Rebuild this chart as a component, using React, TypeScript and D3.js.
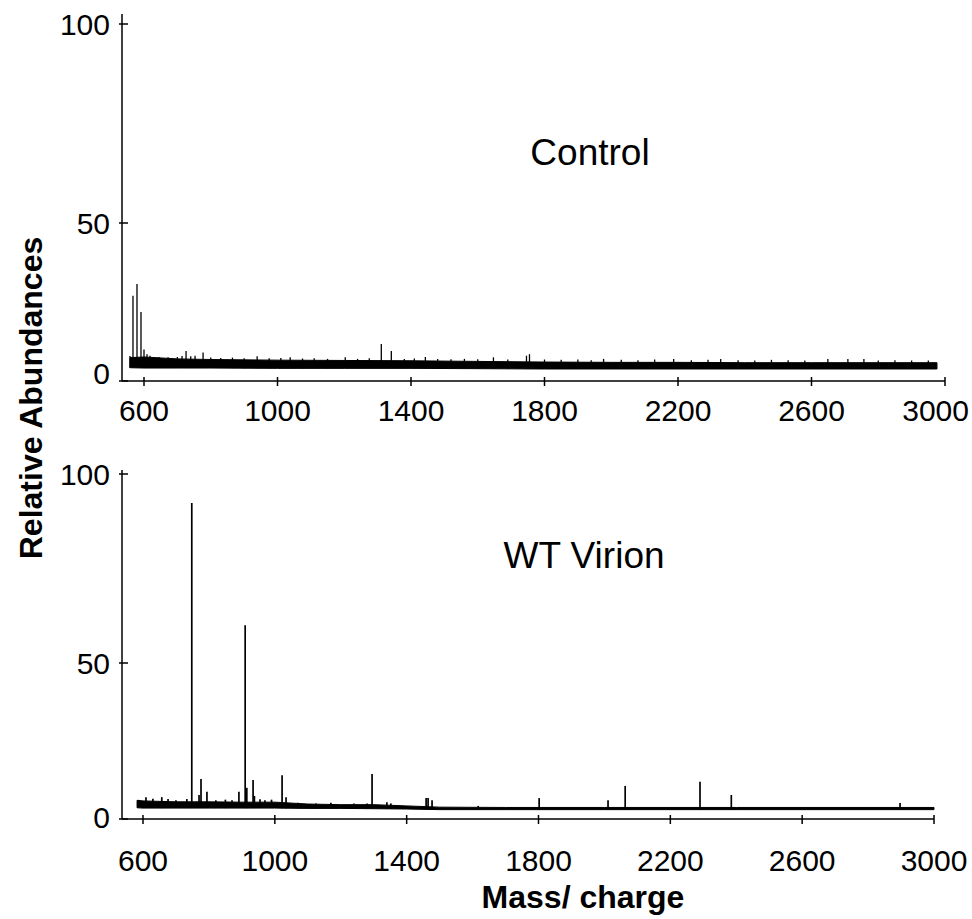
import React, { useEffect, useRef } from 'react';
import * as d3 from 'd3';

const X_TICKS = [600, 1000, 1400, 1800, 2200, 2600, 3000];
const Y_TICKS = [0, 50, 100];

// Control spectrum: noise envelope (m/z, low, high) and single peaks
const controlNoiseMz = [558, 600, 700, 800, 1000, 1200, 1400, 1600, 1800, 2000, 2200, 2400, 2600, 2800, 2976];
const controlNoiseLow = [4.2, 4.1, 4.1, 4.1, 4.0, 4.0, 4.0, 3.9, 3.8, 3.8, 3.8, 3.8, 3.8, 3.8, 3.8];
const controlNoiseHigh = [7.4, 7.6, 7.0, 6.8, 6.6, 6.5, 6.4, 6.2, 6.0, 5.9, 5.9, 5.8, 5.8, 5.8, 5.8];
const controlPeakMz = [
  558, 567, 579, 591, 600, 609, 618, 645, 672, 700, 714, 726, 740, 753, 777, 800, 830, 865, 900, 939,
  975, 1010, 1038, 1075, 1110, 1150, 1203, 1240, 1275, 1311, 1341, 1380, 1410, 1443, 1480, 1520, 1560,
  1600, 1647, 1690, 1746, 1755, 1800, 1850, 1900, 1940, 1977, 2030, 2080, 2130, 2187, 2240, 2290, 2328,
  2380, 2430, 2480, 2530, 2580, 2649, 2709, 2757, 2800, 2850, 2900, 2950,
];
const controlPeakVal = [
  7.9, 27, 30.7, 21.8, 10, 8.5, 8, 7.6, 7.5, 7.6, 7.9, 9.5, 7.8, 8, 9, 7.4, 7.3, 7.4, 7.2, 7.8,
  7.2, 7.3, 7.5, 7.1, 7.2, 7.0, 7.5, 7.0, 7.2, 11.7, 9.5, 7.0, 7.1, 7.6, 7.0, 6.9, 7.0,
  6.9, 7.5, 6.8, 8, 8.5, 6.8, 6.7, 6.8, 6.6, 7, 6.7, 6.6, 6.8, 7, 6.6, 6.7, 7,
  6.6, 6.5, 6.7, 6.6, 6.5, 7, 7, 7, 6.5, 6.6, 6.5, 6.5,
];

// WT Virion spectrum
const virionNoiseMz = [582, 600, 700, 800, 900, 1000, 1100, 1200, 1300, 1400, 1500, 1700, 2000, 2400, 2800, 3000];
const virionNoiseLow = [3.6, 3.5, 3.5, 3.5, 3.5, 3.5, 3.4, 3.4, 3.3, 3.2, 3.0, 3.0, 3.0, 3.0, 3.0, 3.0];
const virionNoiseHigh = [6.0, 5.8, 5.5, 5.5, 5.4, 5.4, 4.8, 4.6, 4.6, 4.2, 3.8, 3.7, 3.7, 3.7, 3.7, 3.7];
const virionPeakMz = [
  585, 609, 630, 657, 676, 700, 733, 748, 770, 776, 794, 821, 850, 870, 891, 910, 915, 934, 938, 955,
  970, 990, 1022, 1034, 1070, 1125, 1170, 1240, 1280, 1295, 1340, 1352, 1459, 1465, 1477, 1617, 1802,
  2011, 2063, 2290, 2385, 2897,
];
const virionPeakVal = [
  6, 7, 6.5, 7, 6.4, 6.0, 6.4, 92.3, 7.7, 12.8, 8.7, 6, 6.2, 6.0, 8.7, 60, 10, 12.5, 7.4, 6.3,
  6, 6.2, 14, 7, 5.2, 5, 5.2, 5, 5, 14.4, 5.4, 5, 6.7, 6.7, 6, 4.2, 6.7,
  6, 10.6, 11.9, 7.7, 5.1,
];

const FONT = '"Liberation Sans", Arial, Helvetica, sans-serif';
const W = 972;
const H = 919;

const App = () => {
  const ref = useRef<SVGSVGElement | null>(null);

  useEffect(() => {
    if (!ref.current) return;
    const svg = d3.select(ref.current);
    svg.selectAll('*').remove();

    const panels = [
      {
        label: 'Control', labelX: 590, labelY: 165,
        xRange: [144, 945], axisLeft: 122, axisRight: 945, yTop: 14,
        yRange: [381, 223, 24], tickLabelY: 421, zeroShift: 8,
        noiseMz: controlNoiseMz, noiseLow: controlNoiseLow, noiseHigh: controlNoiseHigh,
        peakMz: controlPeakMz, peakVal: controlPeakVal, peakWidth: 1.3,
      },
      {
        label: 'WT Virion', labelX: 584, labelY: 568,
        xRange: [143, 934], axisLeft: 122, axisRight: 934, yTop: 470,
        yRange: [819, 663, 474], tickLabelY: 871, zeroShift: 2,
        noiseMz: virionNoiseMz, noiseLow: virionNoiseLow, noiseHigh: virionNoiseHigh,
        peakMz: virionPeakMz, peakVal: virionPeakVal, peakWidth: 1.7,
      },
    ];

    panels.forEach(p => {
      const x = d3.scaleLinear().domain([600, 3000]).range(p.xRange);
      const y = d3.scaleLinear().domain(Y_TICKS).range(p.yRange);
      const g = svg.append('g');

      // noise band
      const band = p.noiseMz.map((m, i) => ({ mz: m, lo: p.noiseLow[i], hi: p.noiseHigh[i] }));
      const area = d3.area<any>()
        .x(d => x(d.mz))
        .y0(d => y(d.lo))
        .y1(d => y(d.hi));
      g.append('path')
        .datum(band)
        .attr('d', area)
        .attr('fill', '#000')
        .attr('stroke', '#000')
        .attr('stroke-width', 1);

      // peaks
      const lowAt = d3.scaleLinear().domain(p.noiseMz).range(p.noiseLow).clamp(true);
      g.selectAll('line.peak')
        .data(p.peakMz.map((m, i) => ({ mz: m, v: p.peakVal[i] })))
        .enter()
        .append('line')
        .attr('class', 'peak')
        .attr('x1', d => x(d.mz))
        .attr('x2', d => x(d.mz))
        .attr('y1', d => y(lowAt(d.mz)))
        .attr('y2', d => y(d.v))
        .attr('stroke', '#000')
        .attr('stroke-width', p.peakWidth);

      // axes
      const y0 = y(0);
      g.append('line')
        .attr('x1', p.axisLeft).attr('x2', p.axisLeft)
        .attr('y1', p.yTop).attr('y2', y0)
        .attr('stroke', '#000').attr('stroke-width', 1.5);
      g.append('line')
        .attr('x1', p.axisLeft).attr('x2', p.axisRight)
        .attr('y1', y0).attr('y2', y0)
        .attr('stroke', '#000').attr('stroke-width', 1.5);

      Y_TICKS.forEach(v => {
        g.append('line')
          .attr('x1', p.axisLeft - 3).attr('x2', p.axisLeft + 6)
          .attr('y1', y(v)).attr('y2', y(v))
          .attr('stroke', '#000').attr('stroke-width', 1.5);
        g.append('text')
          .attr('x', 110)
          .attr('y', y(v) - (v === 0 ? p.zeroShift : 0))
          .attr('dy', '0.36em')
          .attr('text-anchor', 'end')
          .style('font-family', FONT)
          .style('font-size', '30px')
          .text(v);
      });

      X_TICKS.forEach(v => {
        g.append('line')
          .attr('x1', x(v)).attr('x2', x(v))
          .attr('y1', y0 - 4).attr('y2', y0 + 5)
          .attr('stroke', '#000').attr('stroke-width', 1.5);
        const t = g.append('text')
          .attr('x', x(v))
          .attr('y', p.tickLabelY)
          .attr('text-anchor', 'middle')
          .style('font-family', FONT)
          .style('font-size', '30px')
          .text(v);
        // keep the last label inside the picture
        const half = (t.node() as SVGTextElement).getComputedTextLength() / 2;
        if (x(v) + half > W - 3) t.attr('x', W - 3 - half);
      });

      g.append('text')
        .attr('x', p.labelX)
        .attr('y', p.labelY)
        .attr('text-anchor', 'middle')
        .style('font-family', FONT)
        .style('font-size', '37px')
        .text(p.label);
    });

    svg.append('text')
      .attr('transform', 'translate(42,398) rotate(-90)')
      .attr('text-anchor', 'middle')
      .style('font-family', FONT)
      .style('font-weight', 'bold')
      .style('font-size', '32px')
      .text('Relative Abundances');

    svg.append('text')
      .attr('x', 583)
      .attr('y', 908)
      .attr('text-anchor', 'middle')
      .style('font-family', FONT)
      .style('font-weight', 'bold')
      .style('font-size', '32px')
      .text('Mass/ charge');
  }, []);

  return (
    <div style={{ position: 'absolute', left: 0, top: 0 }}>
      <svg ref={ref} width={W} height={H} style={{ display: 'block', background: '#fff' }} />
    </div>
  );
};

export default App;
